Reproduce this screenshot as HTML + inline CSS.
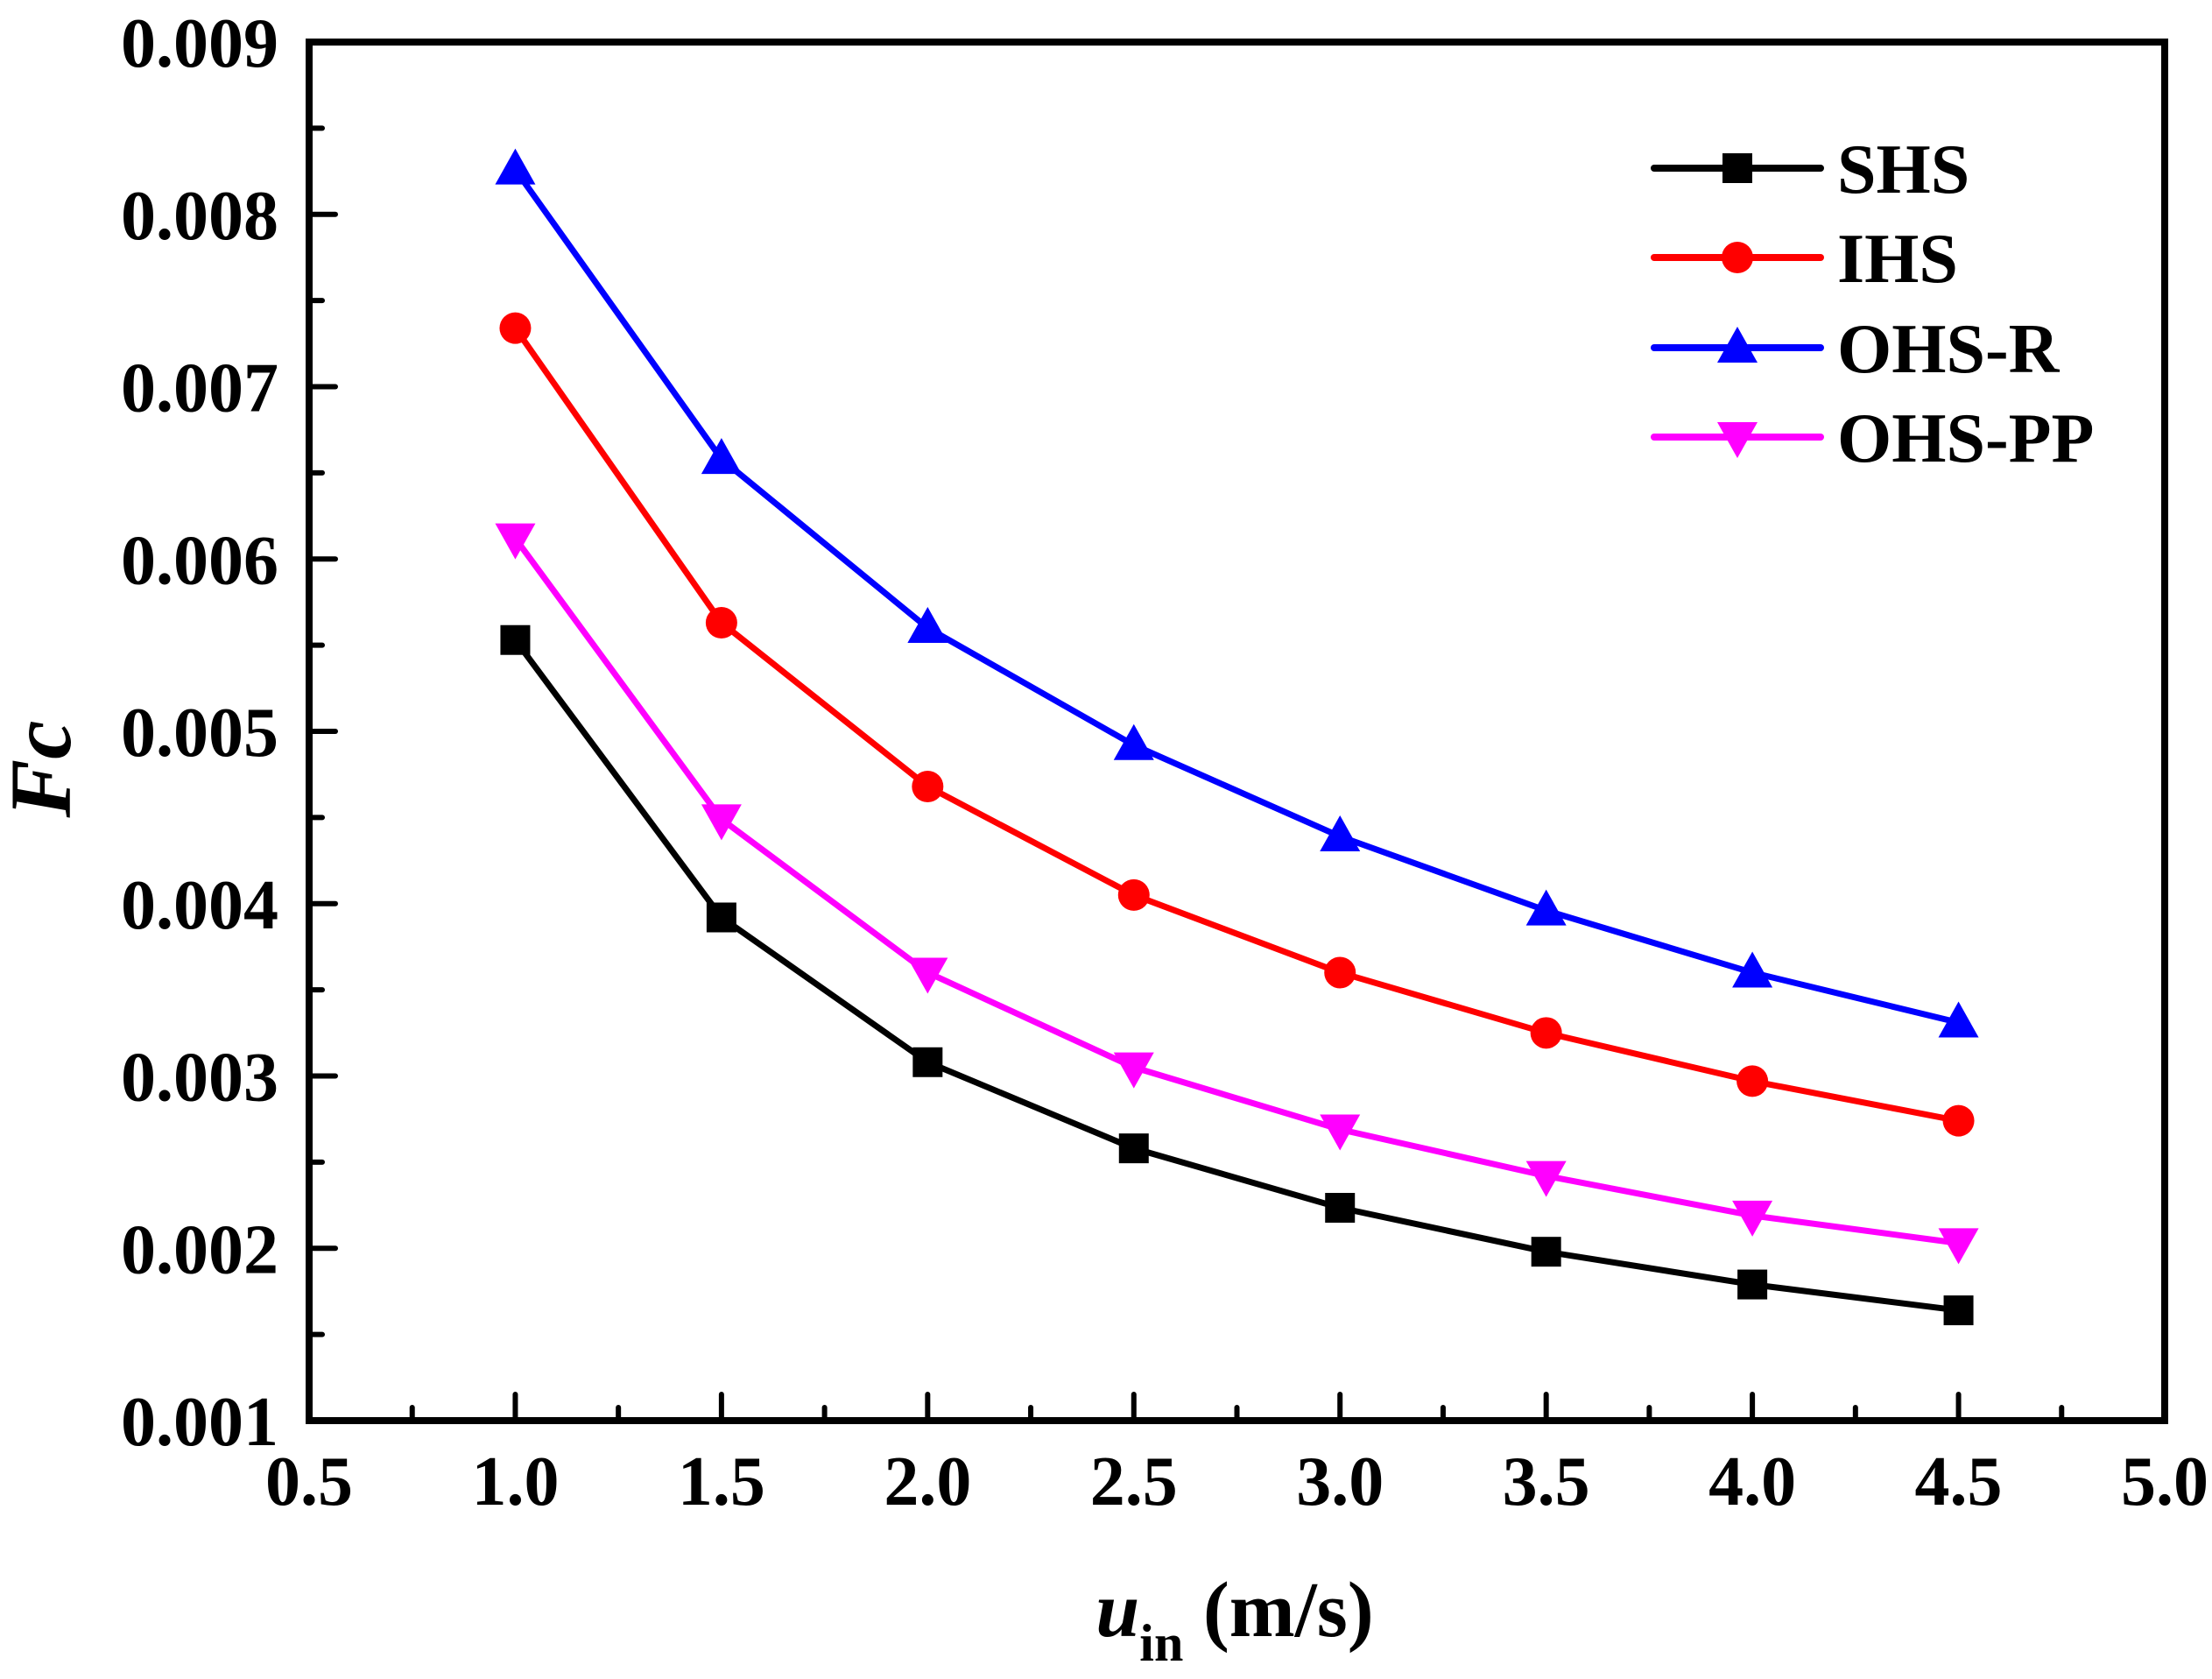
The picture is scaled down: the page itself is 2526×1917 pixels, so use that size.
<!DOCTYPE html>
<html><head><meta charset="utf-8"><style>
html,body{margin:0;padding:0;background:#fff;}
svg{display:block;}
text{font-family:"Liberation Serif",serif;font-weight:bold;fill:#000;}
</style></head><body>
<svg id="chart" width="2526" height="1917" viewBox="0 0 2526 1917" xmlns="http://www.w3.org/2000/svg">
<g id="plot"></g>
</svg>
<script>
const categories=[1.0,1.5,2.0,2.5,3.0,3.5,4.0,4.5];
const shsValues=[0.00553,0.00392,0.00308,0.00258,0.002235,0.00198,0.00179,0.00164];
const ihsValues=[0.00734,0.00563,0.00468,0.00405,0.00360,0.00325,0.00297,0.00274];
const ohsRValues=[0.00826,0.00658,0.00560,0.00492,0.00439,0.00396,0.00360,0.00331];
const ohsPPValues=[0.00612,0.00449,0.00360,0.00305,0.00269,0.00242,0.00219,0.00203];
const xTickLabels=["0.5","1.0","1.5","2.0","2.5","3.0","3.5","4.0","4.5","5.0"];
const yTickLabels=["0.001","0.002","0.003","0.004","0.005","0.006","0.007","0.008","0.009"];
const seriesNames=["SHS","IHS","OHS-R","OHS-PP"];

const NS="http://www.w3.org/2000/svg";
const L=353,R=2472,T=48,B=1622;
const X=v=>L+(v-0.5)/4.5*(R-L);
const Y=v=>B-(v-0.001)/0.008*(B-T);
const g=document.getElementById('plot');
function mk(tag,attrs,parent){const e=document.createElementNS(NS,tag);for(const k in attrs)e.setAttribute(k,attrs[k]);(parent||g).appendChild(e);return e;}

// frame
const frame=mk('rect',{x:L,y:T,width:R-L,height:B-T,fill:'none',stroke:'#000','stroke-width':8});



// x ticks
for(let i=0;i<xTickLabels.length;i++){
  const v=parseFloat(xTickLabels[i]);const x=X(v);
  if(i>0&&i<xTickLabels.length-1){
    const t=mk('line',{x1:x,y1:B,x2:x,y2:B-30,stroke:'#000','stroke-width':6,'stroke-linecap':'round'});
    
    
  }
  if(i<xTickLabels.length-1){
    const xm=X(v+0.25);
    const m=mk('line',{x1:xm,y1:B,x2:xm,y2:B-15,stroke:'#000','stroke-width':6,'stroke-linecap':'round'});
    
    
  }
  const lb=mk('text',{x:x,y:1718,'font-size':80,'text-anchor':'middle'});
  lb.textContent=xTickLabels[i];
  
  
}
// y ticks
for(let i=0;i<yTickLabels.length;i++){
  const v=parseFloat(yTickLabels[i]);const y=Y(v);
  if(i>0&&i<yTickLabels.length-1){
    const t=mk('line',{x1:L,y1:y,x2:L+30,y2:y,stroke:'#000','stroke-width':6,'stroke-linecap':'round'});
    
    
  }
  if(i<yTickLabels.length-1){
    const ym=Y(v+0.0005);
    const m=mk('line',{x1:L,y1:ym,x2:L+15,y2:ym,stroke:'#000','stroke-width':6,'stroke-linecap':'round'});
    
    
  }
  const lb=mk('text',{x:318,y:y+28,'font-size':80,'text-anchor':'end'});
  lb.textContent=yTickLabels[i];
  
  
}

function marker(type,x,y,color,parent){
  let e;
  if(type==='square')e=mk('rect',{x:x-17,y:y-17,width:34,height:34,fill:color},parent);
  else if(type==='circle')e=mk('circle',{cx:x,cy:y,r:18,fill:color},parent);
  else if(type==='up')e=mk('polygon',{points:`${x},${y-24} ${x-23},${y+17} ${x+23},${y+17}`,fill:color},parent);
  else e=mk('polygon',{points:`${x},${y+24} ${x-23},${y-17} ${x+23},${y-17}`,fill:color},parent);
  return e;
}
const allSeries=[shsValues,ihsValues,ohsRValues,ohsPPValues];
const colors=['#000000','#ff0000','#0000ff','#ff00ff'];
const mtypes=['square','circle','up','down'];
const drawOrder=[3,0,1,2];
for(const s of drawOrder){
  const grp=mk('g',{});
  
  
  const pts=categories.map((c,i)=>X(c)+','+Y(allSeries[s][i])).join(' ');
  const pl=mk('polyline',{points:pts,fill:'none',stroke:colors[s],'stroke-width':7,'stroke-linejoin':'round'},grp);
  
  
  categories.forEach((c,i)=>{
    const m=marker(mtypes[s],X(c),Y(allSeries[s][i]),colors[s],grp);
    
    
  });
}
// legend
const legend=mk('g',{});


const rowsY=[192,294,397,499];
for(let s=0;s<4;s++){
  const y=rowsY[s];
  const ent=mk('g',{},legend);
  
  
  mk('line',{x1:1889,y1:y,x2:2079,y2:y,stroke:colors[s],'stroke-width':8,'stroke-linecap':'round'},ent);
  marker(mtypes[s],1984,y,colors[s],ent);
  const t=mk('text',{x:2098,y:y+28,'font-size':80},ent);
  t.textContent=seriesNames[s];
}
// axis titles
const yt=mk('text',{x:0,y:0,'font-size':100,'font-style':'italic','text-anchor':'middle',transform:'translate(80,878) rotate(-90)'});
yt.textContent='Fc';


const xt=mk('text',{x:1410,y:1868,'font-size':90,'text-anchor':'middle'});
xt.innerHTML='<tspan font-style="italic">u</tspan><tspan font-size="60" dy="28">in</tspan><tspan dy="-28"> (m/s)</tspan>';


</script>
</body></html>
